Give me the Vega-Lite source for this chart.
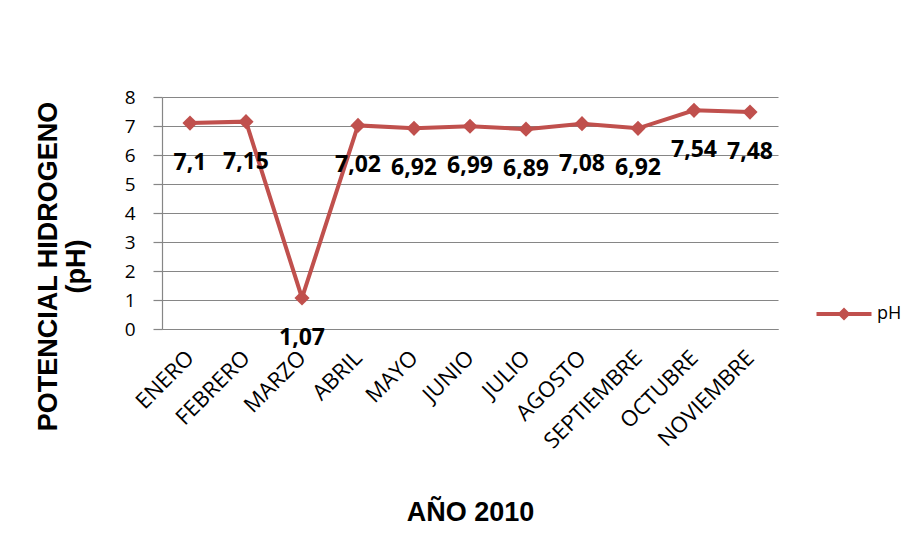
{
  "$schema": "https://vega.github.io/schema/vega-lite/v6.json",
  "width": 616,
  "height": 232,
  "autosize": {"type": "none"},
  "padding": {"left": 162, "top": 97, "right": 144, "bottom": 221},
  "background": "white",
  "config": {
    "locale": {"number": {"decimal": ",", "thousands": ".", "grouping": [3], "currency": ["", " €"]}},
    "view": {"stroke": null},
    "font": "Open Sans"
  },
  "data": {
    "values": [
      {"mes": "ENERO", "ph": 7.1, "serie": "pH"},
      {"mes": "FEBRERO", "ph": 7.15, "serie": "pH"},
      {"mes": "MARZO", "ph": 1.07, "serie": "pH"},
      {"mes": "ABRIL", "ph": 7.02, "serie": "pH"},
      {"mes": "MAYO", "ph": 6.92, "serie": "pH"},
      {"mes": "JUNIO", "ph": 6.99, "serie": "pH"},
      {"mes": "JULIO", "ph": 6.89, "serie": "pH"},
      {"mes": "AGOSTO", "ph": 7.08, "serie": "pH"},
      {"mes": "SEPTIEMBRE", "ph": 6.92, "serie": "pH"},
      {"mes": "OCTUBRE", "ph": 7.54, "serie": "pH"},
      {"mes": "NOVIEMBRE", "ph": 7.48, "serie": "pH"}
    ]
  },
  "encoding": {
    "x": {
      "field": "mes",
      "type": "ordinal",
      "sort": null,
      "scale": {"type": "point", "padding": 0.5},
      "axis": {
        "title": "AÑO 2010",
        "titleFont": "Liberation Sans",
        "titleFontSize": 27,
        "titleFontWeight": "bold",
        "titleColor": "black",
        "titleY": 183,
        "titleBaseline": "middle",
        "labelAngle": -45,
        "labelAlign": "right",
        "labelBaseline": "middle",
        "labelFont": "Open Sans",
        "labelFontSize": 22,
        "labelColor": "black",
        "labelPadding": 25,
        "ticks": false,
        "domain": true,
        "domainColor": "#868686",
        "domainWidth": 1.2,
        "grid": false
      }
    },
    "y": {
      "field": "ph",
      "type": "quantitative",
      "scale": {"domain": [0, 8]},
      "axis": {
        "title": ["POTENCIAL HIDROGENO", "(pH)"],
        "titleFont": "Liberation Sans",
        "titleFontSize": 27,
        "titleFontWeight": "bold",
        "titleColor": "black",
        "titleLineHeight": 28,
        "titleY": 169,
        "titlePadding": 34,
        "values": [0, 1, 2, 3, 4, 5, 6, 7, 8],
        "labelFont": "Open Sans",
        "labelFontSize": 19,
        "labelColor": "black",
        "labelPadding": 18,
        "tickSize": 9,
        "tickColor": "#868686",
        "tickWidth": 1.2,
        "domainColor": "#868686",
        "domainWidth": 1.2,
        "gridColor": "#868686",
        "gridWidth": 1.2,
        "gridOpacity": 1
      }
    }
  },
  "layer": [
    {
      "mark": {"type": "line", "strokeWidth": 4, "color": "#C0504D"},
      "encoding": {
        "color": {
          "field": "serie",
          "type": "nominal",
          "scale": {"range": ["#C0504D"]},
          "legend": {
            "title": null,
            "orient": "none",
            "legendX": 673,
            "legendY": 208,
            "symbolType": "M-5.5,-0.4L5.5,-0.4L5.5,0.4L-5.5,0.4Z M-1.3,0L0,-1.3L1.3,0L0,1.3Z",
            "symbolSize": 100,
            "symbolFillColor": "#C0504D",
            "symbolStrokeWidth": 0,
            "labelFont": "Open Sans",
            "labelFontSize": 18,
            "labelColor": "black",
            "labelOffset": 24
          }
        }
      }
    },
    {
      "mark": {"type": "point", "shape": "diamond", "filled": true, "size": 230, "opacity": 1, "color": "#C0504D"}
    },
    {
      "mark": {"type": "text", "font": "Open Sans", "fontWeight": "bold", "fontSize": 23, "color": "black", "baseline": "middle", "dy": 40},
      "encoding": {
        "text": {"field": "ph", "type": "quantitative", "format": ".2~f"}
      }
    }
  ]
}
